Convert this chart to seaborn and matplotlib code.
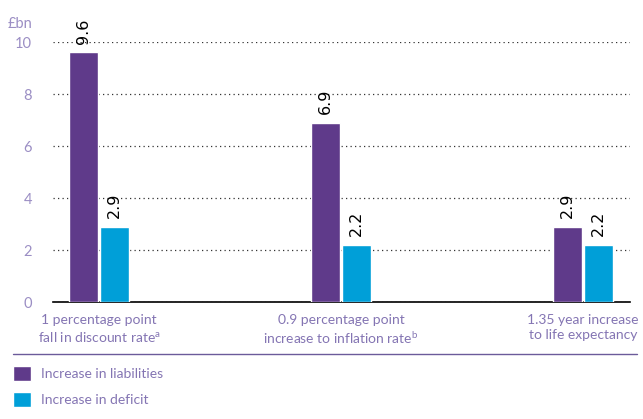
import matplotlib
matplotlib.use('Agg')
import matplotlib.pyplot as plt
import numpy as np
import pandas as pd
import seaborn as sns
from matplotlib.lines import Line2D

# values (£bn)
categories = ['1 percentage point\nfall in discount rate$^{a}$',
              '0.9 percentage point\nincrease to inflation rate$^{b}$',
              '1.35 year increase\nto life expectancy']
liabilities = [9.6, 6.9, 2.9]
deficit = [2.9, 2.2, 2.2]
series = ['Increase in liabilities', 'Increase in deficit']
yticks = [0, 2, 4, 6, 8, 10]

purple = '#5f3a8a'
blue = '#009fd8'
tick_col = '#9b8ec4'
text_col = '#8475b3'

df = pd.DataFrame({
    'category': categories * 2,
    'series': [series[0]] * 3 + [series[1]] * 3,
    'value': liabilities + deficit,
})

sns.set_style('white')
plt.rcParams['font.family'] = ['Lato', 'DejaVu Sans']
plt.rcParams['mathtext.default'] = 'regular'

fig = plt.figure(figsize=(6.43, 4.19), dpi=100)
ax = fig.add_axes([53 / 643, 1 - 302 / 419, 577 / 643, 260 / 419])

sns.barplot(data=df, x='category', y='value', hue='series', order=categories,
            hue_order=series, palette=[purple, blue], width=0.257, gap=0.066,
            saturation=1, ax=ax, zorder=3)

ax.set_xlim(-0.19, 2.195)
ax.set_ylim(0, 10)
ax.set_yticks(yticks)
ax.set_xlabel('')
ax.set_ylabel('')
ax.yaxis.grid(True, color='#333333', linestyle=(0, (1, 2.6)), linewidth=0.9, zorder=0)
ax.xaxis.grid(False)
ax.set_axisbelow(True)
for s in ['left', 'right', 'top']:
    ax.spines[s].set_visible(False)
ax.spines['bottom'].set_color('black')
ax.spines['bottom'].set_linewidth(1.2)
ax.tick_params(axis='y', length=0, pad=15, labelsize=10.5, labelcolor=tick_col)
ax.tick_params(axis='x', length=0, pad=9, labelsize=10, labelcolor=text_col)
for lab in ax.get_xticklabels():
    lab.set_linespacing(1.25)

ax.annotate('£bn', xy=(0, 10), xycoords=('axes fraction', 'data'),
            xytext=(-15, 13), textcoords='offset points', ha='right', va='center',
            color=tick_col, fontsize=10.5)

for c in ax.containers:
    ax.bar_label(c, fmt='%.1f', rotation=90, padding=6, fontsize=11.5,
                 color='black', family='DejaVu Sans')

handles, labels = ax.get_legend_handles_labels()
ax.legend_.remove()
fig.legend(handles, labels, loc='upper left', bbox_to_anchor=(13 / 643, 1 - 366 / 419),
           frameon=False, handlelength=1.3, handleheight=1.3, handletextpad=0.7,
           labelspacing=0.75, borderaxespad=0, borderpad=0, labelcolor=text_col,
           fontsize=10)

fig.add_artist(Line2D([13 / 643, 637 / 643], [1 - 354 / 419] * 2,
                      color='#6b5b9a', linewidth=1))

fig.savefig('out.png', dpi=100)
